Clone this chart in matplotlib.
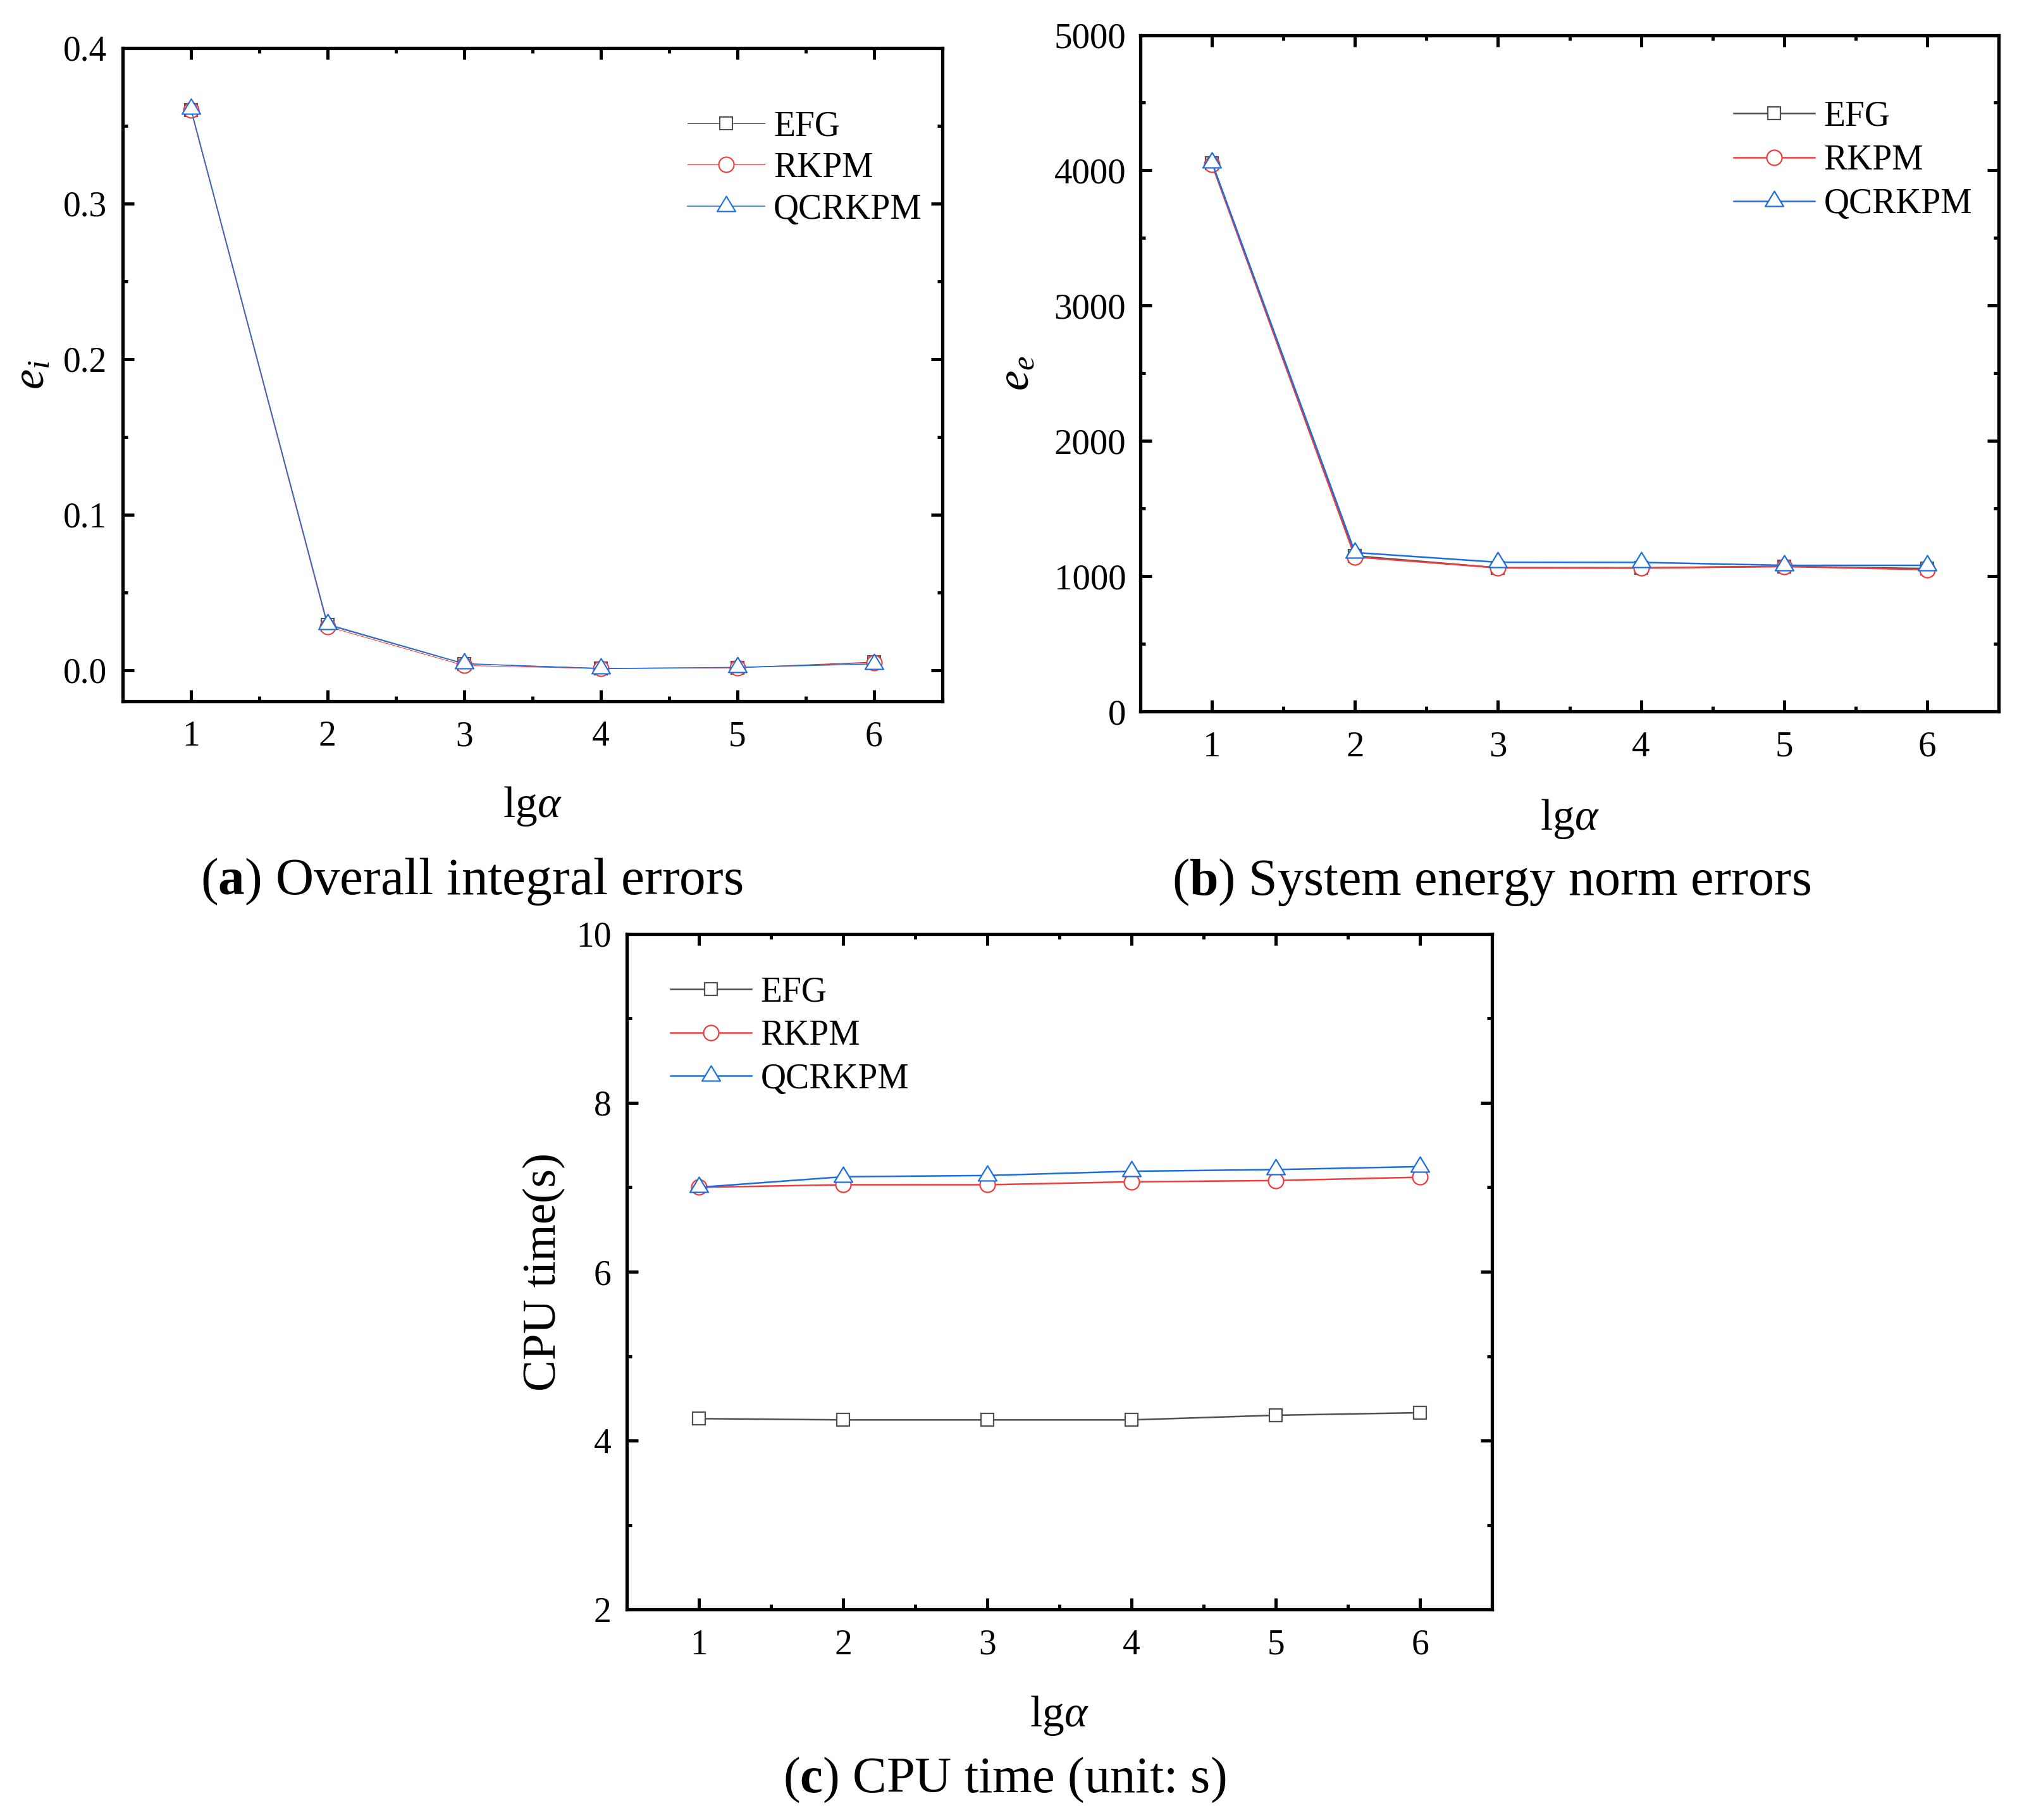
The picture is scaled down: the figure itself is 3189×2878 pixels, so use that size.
import matplotlib
matplotlib.use('Agg')
import matplotlib.pyplot as plt
from matplotlib.path import Path
from matplotlib.ticker import MultipleLocator

plt.rcParams['font.family'] = ['Liberation Serif', 'DejaVu Serif']
plt.rcParams['mathtext.fontset'] = 'custom'
plt.rcParams['mathtext.rm'] = 'Liberation Serif'
plt.rcParams['mathtext.it'] = 'Liberation Serif:italic'
plt.rcParams['mathtext.bf'] = 'Liberation Serif:bold'

# ---------------- data ----------------
lg_alpha = [1, 2, 3, 4, 5, 6]
series_names = ['EFG', 'RKPM', 'QCRKPM']

ei_efg = [0.360, 0.029, 0.0040, 0.0012, 0.0016, 0.0052]
ei_rkpm = [0.360, 0.028, 0.0030, 0.0010, 0.0015, 0.0048]
ei_qcrkpm = [0.361, 0.0295, 0.0042, 0.0010, 0.0018, 0.0040]

ee_efg = [4055, 1150, 1062, 1062, 1072, 1056]
ee_rkpm = [4045, 1142, 1062, 1060, 1072, 1048]
ee_qcrkpm = [4060, 1175, 1103, 1102, 1080, 1080]

cpu_efg = [4.26, 4.245, 4.245, 4.245, 4.30, 4.33]
cpu_rkpm = [7.00, 7.03, 7.03, 7.065, 7.08, 7.12]
cpu_qcrkpm = [7.00, 7.125, 7.14, 7.19, 7.21, 7.245]

x_ticks = [1, 2, 3, 4, 5, 6]
ei_ticks = [0.0, 0.1, 0.2, 0.3, 0.4]
ee_ticks = [0, 1000, 2000, 3000, 4000, 5000]
cpu_ticks = [2, 4, 6, 8, 10]

captions = [r'($\mathbf{a}$) Overall integral errors',
            r'($\mathbf{b}$) System energy norm errors',
            r'($\mathbf{c}$) CPU time (unit: s)']

# ---------------- styles ----------------
colors = ['#4f4f4f', '#f03c3c', '#1a6ee0']
tri = Path([(-14.5, -8), (14.5, -8), (0, 16), (-14.5, -8)],
           [Path.MOVETO, Path.LINETO, Path.LINETO, Path.CLOSEPOLY])
markers = ['s', 'o', tri]
msizes = [15, 17.3, 23]

fig = plt.figure(figsize=(31.89, 28.78), dpi=100)

ax_a = fig.add_axes([0.0608, 0.6147, 0.4064, 0.3589])
ax_b = fig.add_axes([0.5654, 0.6091, 0.4255, 0.3716])
ax_c = fig.add_axes([0.3108, 0.1157, 0.4290, 0.3711])


def draw(ax, ys, lws, mew):
    for i, y in enumerate(ys):
        ax.plot(lg_alpha, y, color=colors[i], lw=lws[i], marker=markers[i],
                ms=msizes[i], mfc='white', mec=colors[i], mew=mew,
                label=series_names[i], zorder=3 + i)


def style(ax, ylim, yticks, yminor, ylabel, ylabel_size, ylabel_x,
          xlabel_y, ypad, tsize=40):
    ax.set_xlim(0.5, 6.5)
    ax.set_ylim(*ylim)
    ax.set_xticks(x_ticks)
    ax.set_yticks(yticks)
    ax.xaxis.set_minor_locator(MultipleLocator(0.5))
    ax.yaxis.set_minor_locator(MultipleLocator(yminor))
    for s in ax.spines.values():
        s.set_linewidth(3.8)
    ax.tick_params(which='both', direction='in', top=True, right=True,
                   width=3.6, labelsize=tsize)
    ax.tick_params(which='major', length=13)
    ax.tick_params(which='minor', length=5.5)
    ax.tick_params(axis='x', which='major', pad=22)
    ax.tick_params(axis='y', which='major', pad=ypad)
    ax.set_xlabel(r'lg$\alpha$', fontsize=50, va='baseline')
    ax.xaxis.set_label_coords(0.5, xlabel_y)
    ax.set_ylabel(ylabel, fontsize=ylabel_size, va='center')
    ax.yaxis.set_label_coords(ylabel_x, 0.5)


# panel a
draw(ax_a, [ei_efg, ei_rkpm, ei_qcrkpm], [0.75, 0.75, 1.1], 1.5)
style(ax_a, (-0.02, 0.4), ei_ticks, 0.05, r'$e_i$', 52, -0.1096, -0.1772, 18)
ax_a.set_yticklabels([f'{v:.1f}' for v in ei_ticks])
ax_a.legend(loc='center left', bbox_to_anchor=(0.3409, 0.9076),
            bbox_transform=fig.transFigure, frameon=False, fontsize=40,
            handlelength=2.2, handletextpad=0.25, labelspacing=0.25,
            borderpad=0, borderaxespad=0)

# panel b
draw(ax_b, [ee_efg, ee_rkpm, ee_qcrkpm], [1.8, 1.8, 1.8], 1.6)
style(ax_b, (0, 5000), ee_ticks, 500, r'$e_e$', 52, -0.143, -0.1749, 16.5,
      tsize=41)
ax_b.legend(loc='center left', bbox_to_anchor=(0.8595, 0.9117),
            bbox_transform=fig.transFigure, frameon=False, fontsize=40,
            handlelength=2.3, handletextpad=0.27, labelspacing=0.31,
            borderpad=0, borderaxespad=0)

# panel c
draw(ax_c, [cpu_efg, cpu_rkpm, cpu_qcrkpm], [1.8, 1.8, 1.8], 1.6)
style(ax_c, (2, 10), cpu_ticks, 1, 'CPU time(s)', 54, -0.0958, -0.1732, 18)
ax_c.legend(loc='center left', bbox_to_anchor=(0.3324, 0.4308),
            bbox_transform=fig.transFigure, frameon=False, fontsize=40,
            handlelength=2.3, handletextpad=0.27, labelspacing=0.30,
            borderpad=0, borderaxespad=0)

# captions
fig.text(0.2339, 0.5087, captions[0], fontsize=60, ha='center', va='baseline')
fig.text(0.7394, 0.5083, captions[1], fontsize=59, ha='center', va='baseline')
fig.text(0.4980, 0.01529, captions[2], fontsize=58, ha='center', va='baseline')

fig.savefig('out.png', dpi=100, facecolor='white')
